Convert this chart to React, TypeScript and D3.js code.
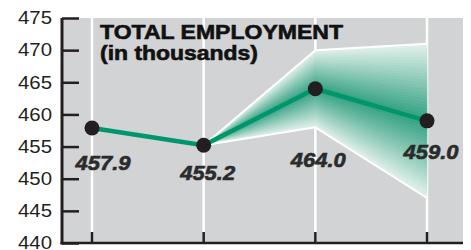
import React, { useEffect, useRef } from "react";
import * as d3 from "d3";

// four reporting points, no labels shown on the x axis
const periods = ["p1", "p2", "p3", "p4"];
const employment = [457.9, 455.2, 464.0, 459.0];
const valueLabels = ["457.9", "455.2", "464.0", "459.0"];
// forecast range (starts at the last actual point)
const rangeHigh = [null, 455.2, 470.0, 471.0];
const rangeLow = [null, 455.2, 458.0, 447.0];
const yTicks = [440, 445, 450, 455, 460, 465, 470, 475];

// label offset from its dot (dx, dy)
const labelOffsets: [number, number][] = [[11, 42], [4, 35], [3, 78], [4, 38]];

export default function App() {
  const ref = useRef<SVGSVGElement | null>(null);

  useEffect(() => {
    const svg = d3.select(ref.current as any);
    svg.selectAll("*").remove();
    const width = 471;
    const height = 250;
    svg.attr("viewBox", `0 0 ${width} ${height}`);

    const left = 62, right = 463, top = 18, bottom = 243;
    const x = d3.scalePoint<string>().domain(periods).range([92, 427]);
    const y = d3.scaleLinear().domain([440, 475]).range([bottom, top]);
    const font = "'Liberation Sans', Arial, Helvetica, sans-serif";

    svg.append("rect")
      .attr("x", left).attr("y", top)
      .attr("width", right - left).attr("height", bottom - top)
      .attr("fill", "#d1d3d4");

    // white verticals
    svg.selectAll(".grid").data(periods).enter().append("line")
      .attr("class", "grid")
      .attr("x1", d => x(d)!).attr("x2", d => x(d)!)
      .attr("y1", top).attr("y2", bottom)
      .attr("stroke", "#fff").attr("stroke-width", 2.5);

    // forecast fan, drawn as strips shading out from the line
    const color = d3.interpolateRgb("#2e9f7f", "#e2f1eb");
    const N = 24;
    const band = svg.append("g");
    const lerp = (a: number[], b: number[], t: number) => [a[0] + (b[0] - a[0]) * t, a[1] + (b[1] - a[1]) * t];
    [rangeHigh, rangeLow].forEach(edge => {
      for (let i = 1; i < periods.length - 1; i++) {
        const c0 = [x(periods[i])!, y(employment[i])];
        const c1 = [x(periods[i + 1])!, y(employment[i + 1])];
        const e0 = [x(periods[i])!, y(edge[i] as number)];
        const e1 = [x(periods[i + 1])!, y(edge[i + 1] as number)];
        for (let k = 0; k < N; k++) {
          const t0 = k / N, t1 = (k + 1) / N;
          const pts = [lerp(c0, e0, t0), lerp(c1, e1, t0), lerp(c1, e1, t1), lerp(c0, e0, t1)];
          const c = color((k + 0.5) / N);
          band.append("polygon")
            .attr("points", pts.map(p => p.join(",")).join(" "))
            .attr("fill", c).attr("stroke", c).attr("stroke-width", 0.6);
        }
      }
    });

    const edgeLine = d3.line<number | null>()
      .defined(d => d !== null)
      .x((_, i) => x(periods[i])!)
      .y(d => y(d as number));
    [rangeHigh, rangeLow].forEach(edge => {
      svg.append("path")
        .attr("d", edgeLine(edge))
        .attr("fill", "none").attr("stroke", "#fff").attr("stroke-width", 2);
    });

    const line = d3.line<number>().x((_, i) => x(periods[i])!).y(d => y(d));
    svg.append("path")
      .attr("d", line(employment))
      .attr("fill", "none").attr("stroke", "#00966c").attr("stroke-width", 4.5)
      .attr("stroke-linejoin", "round");

    svg.selectAll(".dot").data(employment).enter().append("circle")
      .attr("class", "dot")
      .attr("cx", (_, i) => x(periods[i])!).attr("cy", d => y(d))
      .attr("r", 7.5).attr("fill", "#231f20");

    svg.selectAll(".vlabel").data(valueLabels).enter().append("text")
      .attr("class", "vlabel")
      .attr("x", (_, i) => x(periods[i])! + labelOffsets[i][0])
      .attr("y", (_, i) => y(employment[i]) + labelOffsets[i][1])
      .attr("text-anchor", "middle")
      .attr("textLength", 55).attr("lengthAdjust", "spacingAndGlyphs")
      .attr("fill", "#2b2b2b").attr("stroke", "#2b2b2b").attr("stroke-width", 0.6)
      .style("font-family", font).style("font-size", "20px")
      .style("font-weight", "bold").style("font-style", "italic")
      .text(d => d);

    // axes
    const yAxis = svg.append("g")
      .attr("transform", `translate(${left},0)`)
      .call(d3.axisLeft(y).tickValues(yTicks).tickSizeInner(-17).tickSizeOuter(0).tickPadding(10));
    yAxis.select(".domain").remove();
    yAxis.selectAll(".tick line").attr("stroke", "#231f20").attr("stroke-width", 2.5);
    yAxis.selectAll(".tick text")
      .attr("fill", "#231f20")
      .attr("textLength", 34).attr("lengthAdjust", "spacingAndGlyphs")
      .style("font-family", font).style("font-size", "18px");

    svg.selectAll(".xtick").data(periods).enter().append("line")
      .attr("class", "xtick")
      .attr("x1", d => x(d)!).attr("x2", d => x(d)!)
      .attr("y1", bottom - 11).attr("y2", bottom)
      .attr("stroke", "#231f20").attr("stroke-width", 2.5);

    svg.append("line")
      .attr("x1", left).attr("x2", left).attr("y1", top).attr("y2", bottom + 1.5)
      .attr("stroke", "#231f20").attr("stroke-width", 3);
    svg.append("line")
      .attr("x1", left - 1.5).attr("x2", right).attr("y1", bottom).attr("y2", bottom)
      .attr("stroke", "#231f20").attr("stroke-width", 2.5);

    // title
    svg.append("text")
      .attr("x", 100).attr("y", 39)
      .attr("textLength", 243).attr("lengthAdjust", "spacingAndGlyphs")
      .attr("fill", "#111").attr("stroke", "#111").attr("stroke-width", 0.6)
      .style("font-family", font).style("font-size", "20px").style("font-weight", "bold")
      .text("TOTAL EMPLOYMENT");
    svg.append("text")
      .attr("x", 100).attr("y", 60)
      .attr("textLength", 158).attr("lengthAdjust", "spacingAndGlyphs")
      .attr("fill", "#111").attr("stroke", "#111").attr("stroke-width", 0.6)
      .style("font-family", font).style("font-size", "20px").style("font-weight", "bold")
      .text("(in thousands)");
  }, []);

  return (
    <svg ref={ref} width={471} height={250}
      style={{ position: "absolute", left: 0, top: 0, background: "#fff" }} />
  );
}
